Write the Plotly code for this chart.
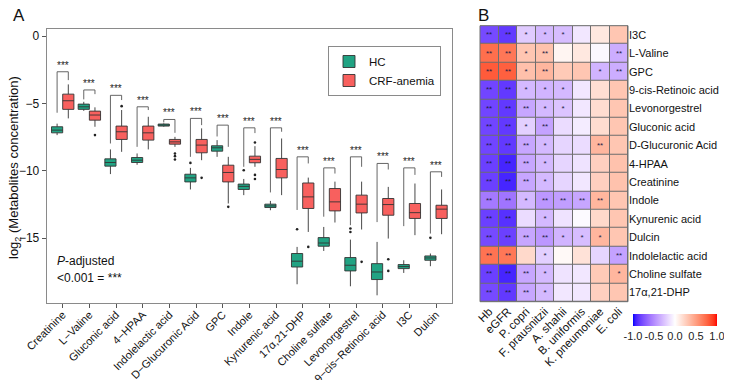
import numpy as np
import plotly.graph_objects as go

# ---------------- Panel A data ----------------
categories = ["Creatinine", "L\u2212Valine", "Gluconic acid", "4\u2212HPAA", "Indolelactic acid",
              "D\u2212Glucuronic Acid", "GPC", "Indole", "Kynurenic acid", "17\u03b1,21-DHP",
              "Choline sulfate", "Levonorgestrel", "9\u2212cis\u2212Retinoic acid", "I3C", "Dulcin"]

hc_q1 = [-7.18, -5.44, -9.65, -9.38, -6.68, -10.82, -8.54, -11.38, -12.72, -17.13, -15.59, -17.42, -18.06, -17.25, -16.63]
hc_med = [-6.98, -5.25, -9.38, -9.21, -6.61, -10.52, -8.29, -11.15, -12.60, -16.70, -15.35, -17.00, -17.50, -17.10, -16.46]
hc_q3 = [-6.73, -5.05, -9.11, -9.01, -6.53, -10.25, -8.14, -10.98, -12.47, -16.13, -14.95, -16.43, -16.88, -16.95, -16.31]
hc_lo = [-7.35, -5.55, -10.24, -9.55, -6.73, -11.38, -8.96, -11.80, -12.92, -18.41, -15.94, -18.56, -19.23, -17.57, -17.07]
hc_hi = [-6.50, -4.88, -8.41, -8.71, -6.48, -9.78, -7.72, -10.60, -12.23, -15.64, -14.16, -15.10, -15.27, -16.63, -16.13]
hc_out_cat = ["D\u2212Glucuronic Acid", "Indole", "17\u03b1,21-DHP", "Levonorgestrel", "Levonorgestrel", "Dulcin"]
hc_out_val = [-9.41, -9.95, -14.33, -14.28, -14.53, -14.97]

crf_q1 = [-5.44, -6.24, -7.67, -7.72, -8.02, -8.66, -10.82, -9.40, -10.52, -12.79, -12.97, -13.12, -13.29, -13.53, -13.53]
crf_med = [-4.80, -5.86, -7.10, -7.18, -7.85, -8.09, -10.12, -9.15, -9.90, -11.93, -12.30, -12.47, -12.50, -13.10, -12.84]
crf_q3 = [-4.31, -5.57, -6.68, -6.68, -7.67, -7.67, -9.58, -8.91, -9.08, -10.90, -11.31, -11.80, -12.05, -12.42, -12.55]
crf_lo = [-6.11, -6.73, -8.59, -8.41, -8.22, -9.21, -12.42, -9.70, -11.80, -14.53, -13.83, -14.35, -15.02, -14.77, -14.70]
crf_hi = [-3.59, -5.29, -5.49, -5.99, -7.48, -6.85, -8.96, -8.17, -7.60, -10.50, -10.80, -10.80, -11.19, -10.94, -11.38]
crf_out_cat = ["L\u2212Valine", "Gluconic acid", "Indolelactic acid", "Indolelactic acid", "Indolelactic acid",
               "D\u2212Glucuronic Acid", "GPC", "Indole", "Indole", "Indole", "17\u03b1,21-DHP",
               "Levonorgestrel", "9\u2212cis\u2212Retinoic acid", "9\u2212cis\u2212Retinoic acid"]
crf_out_val = [-7.35, -5.20, -8.71, -8.91, -9.16, -10.52, -12.67, -7.90, -10.30, -10.60, -15.64, -16.75, -16.56, -17.42]

# significance brackets (data units)
bracket_top = [-2.65, -4.00, -4.40, -5.25, -6.19, -6.11, -6.61, -6.81, -6.81, -8.96, -9.78, -8.96, -9.45, -9.78, -10.07]
bracket_left_end = [-5.69, -4.70, -7.97, -8.22, -6.41, -8.96, -7.45, -9.70, -11.60, -12.90, -13.40, -14.03, -13.80, -14.10, -14.65]
bracket_right_end = [-3.27, -4.31, -4.75, -5.49, -7.18, -6.61, -8.22, -7.20, -7.10, -9.45, -10.20, -9.70, -9.90, -10.30, -10.45]
sig_label = "***"

y_ticks = [0, -5, -10, -15]

# ---------------- Panel B data ----------------
hm_rows = ["I3C", "L-Valine", "GPC", "9-cis-Retinoic acid", "Levonorgestrel", "Gluconic acid",
           "D-Glucuronic Acid", "4-HPAA", "Creatinine", "Indole", "Kynurenic acid", "Dulcin",
           "Indolelactic acid", "Choline sulfate", "17\u03b1,21-DHP"]
hm_cols = ["Hb", "eGFR", "P. copri", "F. prausnitzii", "A. shahii", "B. uniformis", "K. pneumoniae", "E. coli"]
hm_vals = [
    [-0.78, -0.85, -0.22, -0.30, -0.28, -0.10, 0.12, 0.30],
    [0.72, 0.68, 0.30, 0.32, 0.05, 0.12, -0.03, -0.35],
    [0.80, 0.78, 0.33, 0.38, 0.28, 0.30, -0.32, -0.35],
    [-0.80, -0.85, -0.30, -0.32, -0.30, -0.10, 0.17, 0.30],
    [-0.80, -0.85, -0.38, -0.30, -0.25, -0.10, 0.18, 0.30],
    [-0.80, -0.85, -0.20, -0.40, -0.15, -0.08, 0.18, 0.30],
    [-0.80, -0.85, -0.38, -0.30, -0.18, -0.15, 0.38, 0.30],
    [-0.82, -0.92, -0.38, -0.30, -0.18, -0.12, 0.25, 0.32],
    [-0.82, -0.92, -0.38, -0.30, -0.18, -0.10, 0.25, 0.32],
    [-0.58, -0.60, -0.30, -0.45, -0.42, -0.38, 0.38, 0.30],
    [-0.82, -0.88, -0.15, -0.30, -0.12, -0.02, 0.20, 0.30],
    [-0.78, -0.82, -0.38, -0.45, -0.32, -0.28, 0.38, 0.30],
    [0.70, 0.68, 0.20, -0.20, 0.03, 0.15, -0.18, -0.40],
    [-0.82, -0.92, -0.38, -0.30, -0.12, -0.10, 0.28, 0.38],
    [-0.78, -0.85, -0.38, -0.30, -0.10, -0.10, 0.25, 0.30],
]
hm_stars = [
    ["**", "**", "*", "*", "*", "", "", ""],
    ["**", "**", "*", "**", "", "", "", "**"],
    ["**", "**", "*", "**", "", "", "*", "**"],
    ["**", "**", "*", "*", "*", "", "", ""],
    ["**", "**", "**", "*", "*", "", "", ""],
    ["**", "**", "*", "**", "", "", "", ""],
    ["**", "**", "**", "*", "", "", "**", ""],
    ["**", "**", "**", "*", "", "", "", ""],
    ["**", "**", "**", "*", "", "", "", ""],
    ["**", "**", "*", "**", "**", "**", "**", ""],
    ["**", "**", "", "*", "", "", "", ""],
    ["**", "**", "**", "**", "*", "*", "*", ""],
    ["**", "**", "", "*", "", "", "", "**"],
    ["**", "**", "**", "*", "", "", "", "*"],
    ["**", "**", "**", "*", "", "", "", ""],
]
cb_ticks = [-1.0, -0.5, 0.0, 0.5, 1.0]

# ---------------- styling helpers ----------------
FONT = "Liberation Sans, Arial, Helvetica, sans-serif"
HC_COLOR = "#21A383"
CRF_COLOR = "#F8605E"
OFF = 0.21
BW = 0.42

# page body has an 8px default margin: the figure is drawn 8px in from the window corner
PAGE_PAD = 8
FIG_W = 732 - PAGE_PAD
FIG_H = 380 - PAGE_PAD


def px(xw):
    """window x pixel -> paper fraction"""
    return (xw - PAGE_PAD) / FIG_W


def py(yw):
    """window y pixel -> paper fraction"""
    return 1 - (yw - PAGE_PAD) / FIG_H


def srgb_to_lab(c):
    rgb = np.array(c, dtype=float) / 255.0
    lin = np.where(rgb <= 0.04045, rgb / 12.92, ((rgb + 0.055) / 1.055) ** 2.4)
    M = np.array([[0.4124, 0.3576, 0.1805], [0.2126, 0.7152, 0.0722], [0.0193, 0.1192, 0.9505]])
    xyz = M @ lin / np.array([0.95047, 1.0, 1.08883])
    f = np.where(xyz > 0.008856, np.cbrt(xyz), 7.787 * xyz + 16 / 116)
    return np.array([116 * f[1] - 16, 500 * (f[0] - f[1]), 200 * (f[1] - f[2])])


def lab_to_srgb(lab):
    L, a, b = lab
    fy = (L + 16) / 116
    fx = fy + a / 500
    fz = fy - b / 200
    f = np.array([fx, fy, fz])
    xyz = np.where(f ** 3 > 0.008856, f ** 3, (f - 16 / 116) / 7.787) * np.array([0.95047, 1.0, 1.08883])
    Mi = np.array([[3.2406, -1.5372, -0.4986], [-0.9689, 1.8758, 0.0415], [0.0557, -0.2040, 1.0570]])
    lin = np.clip(Mi @ xyz, 0, 1)
    rgb = np.where(lin <= 0.0031308, 12.92 * lin, 1.055 * lin ** (1 / 2.4) - 0.055)
    r, g, b2 = np.clip(np.round(rgb * 255), 0, 255).astype(int)
    return f"rgb({r},{g},{b2})"


lab_lo = srgb_to_lab((0, 0, 255))
lab_mid = srgb_to_lab((255, 255, 255))
lab_hi = srgb_to_lab((255, 0, 0))
colorscale = []
for s in np.linspace(0, 1, 41):
    if s <= 0.5:
        t = s / 0.5
        lab = lab_lo + (lab_mid - lab_lo) * t
    else:
        t = (s - 0.5) / 0.5
        lab = lab_mid + (lab_hi - lab_mid) * t
    colorscale.append([float(s), lab_to_srgb(lab)])

fig = go.Figure()

idx = {c: i for i, c in enumerate(categories)}
pos = list(range(len(categories)))

# ---- boxes ----
fig.add_trace(go.Box(
    name="HC", x=[p - OFF for p in pos], q1=hc_q1, median=hc_med, q3=hc_q3,
    lowerfence=hc_lo, upperfence=hc_hi, width=BW, whiskerwidth=0, boxpoints=False,
    fillcolor=HC_COLOR, line=dict(color="#333333", width=0.9), xaxis="x", yaxis="y",
    hoverinfo="skip"))
fig.add_trace(go.Box(
    name="CRF-anemia", x=[p + OFF for p in pos], q1=crf_q1, median=crf_med, q3=crf_q3,
    lowerfence=crf_lo, upperfence=crf_hi, width=BW, whiskerwidth=0, boxpoints=False,
    fillcolor=CRF_COLOR, line=dict(color="#333333", width=0.9), xaxis="x", yaxis="y",
    hoverinfo="skip"))

# ---- outliers ----
fig.add_trace(go.Scatter(
    x=[idx[c] - OFF for c in hc_out_cat], y=hc_out_val, mode="markers",
    marker=dict(color="#222222", size=2.6), showlegend=False, hoverinfo="skip",
    xaxis="x", yaxis="y"))
fig.add_trace(go.Scatter(
    x=[idx[c] + OFF for c in crf_out_cat], y=crf_out_val, mode="markers",
    marker=dict(color="#222222", size=2.6), showlegend=False, hoverinfo="skip",
    xaxis="x", yaxis="y"))

# ---- significance brackets ----
bx, by = [], []
for p in pos:
    bx += [p - OFF, p - OFF, p + OFF, p + OFF, None]
    by += [bracket_left_end[p], bracket_top[p], bracket_top[p], bracket_right_end[p], None]
fig.add_trace(go.Scatter(x=bx, y=by, mode="lines", line=dict(color="#555555", width=0.9),
                         showlegend=False, hoverinfo="skip", xaxis="x", yaxis="y"))

annotations = []
for p in pos:
    annotations.append(dict(x=p, y=bracket_top[p], xref="x", yref="y", text=sig_label,
                            showarrow=False, yanchor="bottom", yshift=-1,
                            font=dict(family=FONT, size=10, color="#222222")))

# ---- heatmap ----
fig.add_trace(go.Heatmap(
    z=hm_vals, x=hm_cols, y=hm_rows, text=hm_stars, texttemplate="%{text}",
    textfont=dict(family=FONT, size=8, color="#1e1e46"),
    zmin=-1, zmax=1, colorscale=colorscale, xgap=1, ygap=1, xaxis="x2", yaxis="y2",
    hoverinfo="skip",
    colorbar=dict(orientation="h", x=px(675), xanchor="center", y=py(314), yanchor="top",
                  len=84, lenmode="pixels", thickness=12, xpad=0, ypad=0,
                  tickvals=cb_ticks, ticktext=[f"{v:.1f}" for v in cb_ticks],
                  ticklabeloverflow="allow",
                  ticks="", outlinewidth=0, tickfont=dict(family=FONT, size=11, color="#222222"))))

# ---- text annotations ----
annotations += [
    dict(x=px(19), y=py(15.5), xref="paper", yref="paper", text="A", showarrow=False,
         font=dict(family=FONT, size=17, color="#111111"), xanchor="center", yanchor="middle"),
    dict(x=px(483), y=py(15.5), xref="paper", yref="paper", text="B", showarrow=False,
         font=dict(family=FONT, size=17, color="#111111"), xanchor="center", yanchor="middle"),
    dict(x=px(14), y=py(168), xref="paper", yref="paper",
         text="log<sub>2</sub> (Metabolites concentration)", textangle=-90, showarrow=False,
         font=dict(family=FONT, size=13, color="#111111"), xanchor="center", yanchor="middle"),
    dict(x=px(55), y=py(261), xref="paper", yref="paper", text="<i>P</i>-adjusted",
         showarrow=False, font=dict(family=FONT, size=12, color="#111111"),
         xanchor="left", yanchor="middle"),
    dict(x=px(55), y=py(278), xref="paper", yref="paper", text="&lt;0.001 = ***",
         showarrow=False, font=dict(family=FONT, size=12, color="#111111"),
         xanchor="left", yanchor="middle"),
]

shapes = [
    dict(type="rect", xref="x2 domain", yref="y2 domain", x0=0, x1=1, y0=0, y1=1,
         fillcolor="#6e6e6e", line=dict(width=0), layer="below"),
    dict(type="rect", xref="x2 domain", yref="y2 domain", x0=0, x1=1, y0=0, y1=1,
         fillcolor="rgba(0,0,0,0)", line=dict(color="#6e6e6e", width=1), layer="above"),
]

fig.update_layout(
    width=FIG_W, height=FIG_H, autosize=False,
    margin=dict(l=0, r=0, t=0, b=0, autoexpand=False),
    paper_bgcolor="white", plot_bgcolor="white",
    font=dict(family=FONT, size=12, color="#111111"),
    boxmode="overlay",
    showlegend=True,
    legend=dict(x=px(328), y=py(46), xanchor="left", yanchor="top",
                bordercolor="#8a8a8a", borderwidth=1, bgcolor="white",
                font=dict(family=FONT, size=11.5, color="#111111"), itemwidth=30,
                tracegroupgap=0),
    xaxis=dict(domain=[px(46.7), px(452)], range=[-0.6, len(categories) - 0.4],
               tickmode="array", tickvals=pos, ticktext=categories, tickangle=-45,
               showline=True, mirror=True, linecolor="#8a8a8a", linewidth=1,
               ticks="outside", ticklen=4, tickcolor="#555555", showgrid=False, zeroline=False,
               ticklabelstandoff=-4,
               automargin=False, tickfont=dict(family=FONT, size=11, color="#111111")),
    yaxis=dict(domain=[py(303), py(29)], range=[-19.8, 0.52],
               tickmode="array", tickvals=y_ticks,
               showline=True, mirror=True, linecolor="#8a8a8a", linewidth=1,
               ticks="outside", ticklen=4, tickcolor="#555555", showgrid=False, zeroline=False,
               automargin=False, tickfont=dict(family=FONT, size=12, color="#111111")),
    xaxis2=dict(domain=[px(480), px(628)], anchor="y2", tickangle=-45, ticks="",
                showgrid=False, zeroline=False, showline=False, automargin=False,
                tickfont=dict(family=FONT, size=11.5, color="#111111")),
    yaxis2=dict(domain=[py(301.7), py(25.7)], anchor="x2", side="right",
                autorange="reversed", ticks="", showgrid=False, zeroline=False, showline=False,
                automargin=False, tickfont=dict(family=FONT, size=11, color="#111111")),
    annotations=annotations,
    shapes=shapes,
)

fig.write_html("out.html")
